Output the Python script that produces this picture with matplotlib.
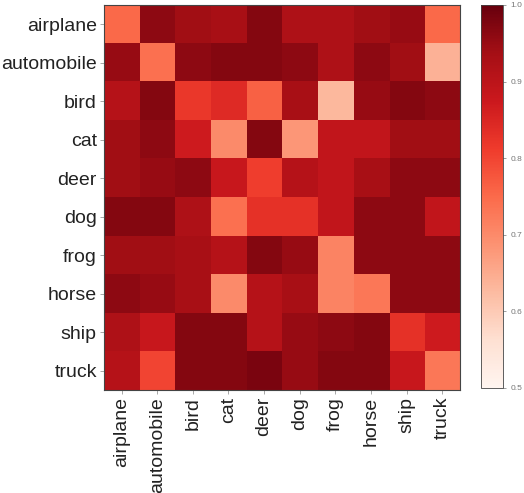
import numpy as np
import matplotlib
matplotlib.use("Agg")
import matplotlib.pyplot as plt

classes = ["airplane", "automobile", "bird", "cat", "deer",
           "dog", "frog", "horse", "ship", "truck"]

airplane   = [0.75, 0.96, 0.94, 0.93, 0.97, 0.92, 0.92, 0.94, 0.95, 0.75]
automobile = [0.95, 0.74, 0.96, 0.97, 0.97, 0.96, 0.92, 0.96, 0.94, 0.64]
bird       = [0.91, 0.97, 0.82, 0.84, 0.76, 0.93, 0.63, 0.95, 0.97, 0.96]
cat        = [0.94, 0.96, 0.87, 0.70, 0.97, 0.68, 0.89, 0.89, 0.94, 0.94]
deer       = [0.94, 0.95, 0.96, 0.88, 0.81, 0.91, 0.89, 0.93, 0.96, 0.96]
dog        = [0.97, 0.97, 0.92, 0.74, 0.83, 0.83, 0.89, 0.96, 0.96, 0.89]
frog       = [0.94, 0.94, 0.93, 0.91, 0.97, 0.95, 0.71, 0.96, 0.96, 0.96]
horse      = [0.96, 0.95, 0.93, 0.70, 0.91, 0.93, 0.71, 0.73, 0.96, 0.96]
ship       = [0.92, 0.88, 0.97, 0.97, 0.91, 0.95, 0.96, 0.97, 0.83, 0.87]
truck      = [0.91, 0.80, 0.97, 0.97, 0.98, 0.95, 0.97, 0.97, 0.88, 0.73]

data = np.array([airplane, automobile, bird, cat, deer,
                 dog, frog, horse, ship, truck])

plt.rcParams["font.family"] = ["Liberation Sans", "DejaVu Sans"]

fig = plt.figure(figsize=(5.24, 4.93), dpi=100)
ax = fig.add_axes([0.198, 0.209, 0.680, 0.781])
cax = fig.add_axes([0.918, 0.213, 0.042, 0.777])

im = ax.imshow(data, cmap="Reds", vmin=0.5, vmax=1.0, aspect="auto",
               interpolation="nearest")

ax.set_xticks(range(len(classes)))
ax.set_yticks(range(len(classes)))
ax.set_xticklabels(classes, rotation=90, fontsize=14, color="#222222")
ax.set_yticklabels(classes, fontsize=14, color="#222222")
ax.tick_params(length=3, width=0.6, color="#999999", pad=2)
for s in ax.spines.values():
    s.set_linewidth(0.8)
    s.set_color("#444444")

cb = fig.colorbar(im, cax=cax, ticks=[0.5, 0.6, 0.7, 0.8, 0.9, 1.0])
cb.ax.tick_params(labelsize=6, length=2, width=0.5, colors="#777777")
cb.outline.set_linewidth(0.6)
cb.outline.set_edgecolor("#444444")

fig.savefig("out.png", dpi=100)
